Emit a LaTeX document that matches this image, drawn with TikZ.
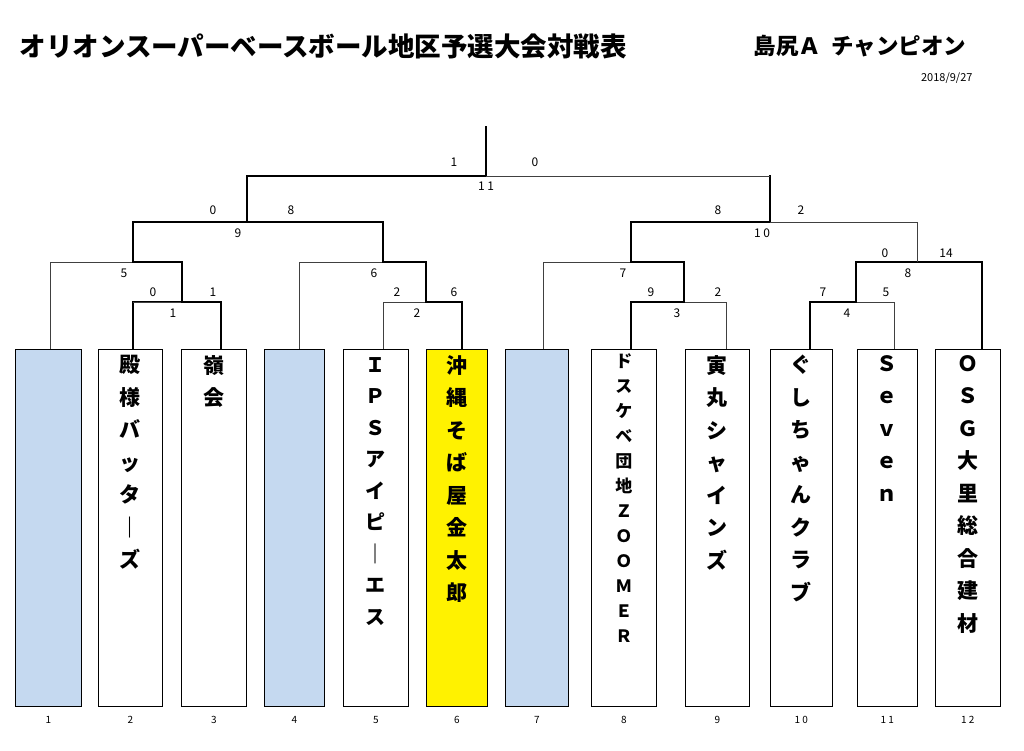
\documentclass[tikz,border=0pt]{standalone}
\usepackage{fontspec}
\setmainfont{Noto Sans CJK JP}
\definecolor{byecol}{RGB}{197,217,240}
\tikzset{
  box/.style={draw, line width=0.6pt, minimum width=#1, minimum height=357pt, anchor=north west, inner sep=0pt},
  win/.style={line width=2.4pt, line cap=rect},
  lose/.style={line width=0.6pt, draw=black!75},
  score/.style={font=\fontsize{12}{12}\selectfont},
  teamname/.style={anchor=north, align=center, inner sep=0pt},
}
\begin{document}
\begin{tikzpicture}[x=1pt,y=-1pt]
  \useasboundingbox (0,0) rectangle (1024,751);
  % title
  \node[anchor=west, font=\fontsize{26.5}{26}\selectfont\bfseries] (title) at (16,46) {オリオンスーパーベースボール地区予選大会対戦表};
  \node[anchor=west, font=\fontsize{22.5}{22}\selectfont\bfseries] (champ) at (750,46) {島尻Ａ\ \ チャンピオン};
  \node[anchor=east, font=\fontsize{11}{11}\selectfont] (date) at (976,78) {2018/9/27};
  % boxes
  \node[box=66pt, fill=byecol] (b1) at (15,349) {};
  \node[box=64pt] (b2) at (98,349) {};
  \node[box=65pt] (b3) at (181,349) {};
  \node[box=60pt, fill=byecol] (b4) at (264,349) {};
  \node[box=65pt] (b5) at (343,349) {};
  \node[box=61pt, fill=yellow] (b6) at (426,349) {};
  \node[box=63pt, fill=byecol] (b7) at (505,349) {};
  \node[box=65pt] (b8) at (591,349) {};
  \node[box=64pt] (b9) at (685,349) {};
  \node[box=62pt] (b10) at (770,349) {};
  \node[box=60pt] (b11) at (857,349) {};
  \node[box=65pt] (b12) at (935,349) {};
  \foreach \i/\lab in {1/1,2/2,3/3,4/4,5/5,6/6,7/7,8/8,9/9,10/1\ 0,11/1\ 1,12/1\ 2}
    \node[score, font=\fontsize{10}{10}\selectfont] (n\i) at ([yshift=-13pt]b\i.south) {\lab};
  % team names
  \node[teamname, font=\fontsize{21}{32.5}\selectfont\bfseries] (t2) at ([yshift=-6pt]b2.north) {殿\\様\\バ\\ッ\\タ\\｜\\ズ};
  \node[teamname, font=\fontsize{21}{32.5}\selectfont\bfseries] (t3) at ([yshift=-6pt]b3.north) {嶺\\会};
  \node[teamname, font=\fontsize{20}{31.5}\selectfont\bfseries] (t5) at ([yshift=-8pt]b5.north) {Ｉ\\Ｐ\\Ｓ\\ア\\イ\\ピ\\｜\\エ\\ス};
  \node[teamname, font=\fontsize{21}{32.5}\selectfont\bfseries] (t6) at ([yshift=-6pt]b6.north) {沖\\縄\\そ\\ば\\屋\\金\\太\\郎};
  \node[teamname, font=\fontsize{17}{25}\selectfont\bfseries] (t8) at ([yshift=-4pt]b8.north) {ド\\ス\\ケ\\ベ\\団\\地\\Ｚ\\Ｏ\\Ｏ\\Ｍ\\Ｅ\\Ｒ};
  \node[teamname, font=\fontsize{21}{32.5}\selectfont\bfseries] (t9) at ([yshift=-6pt]b9.north) {寅\\丸\\シ\\ャ\\イ\\ン\\ズ};
  \node[teamname, font=\fontsize{21}{32.5}\selectfont\bfseries] (t10) at ([yshift=-6pt]b10.north) {ぐ\\し\\ち\\ゃ\\ん\\ク\\ラ\\ブ};
  \node[teamname, font=\fontsize{21}{32.5}\selectfont\bfseries] (t11) at ([yshift=-6pt]b11.north) {Ｓ\\ｅ\\ｖ\\ｅ\\ｎ};
  \node[teamname, font=\fontsize{21}{32.5}\selectfont\bfseries] (t12) at ([yshift=-6pt]b12.north) {Ｏ\\Ｓ\\Ｇ\\大\\里\\総\\合\\建\\材};
  % left half
  \draw[lose] (50,349) -- (50,262) -- (133,262);
  \draw[win] (133,349) -- (133,302) -- (182,302) -- (221,302) -- (221,349);
  \draw[lose] (133,302) -- (182,302);
  \draw[win] (182,302) -- (182,262) -- (133,262) -- (133,222) -- (247,222);
  \draw[lose] (299,349) -- (299,262) -- (383,262);
  \draw[lose] (383,349) -- (383,302) -- (426,302);
  \draw[win] (462,349) -- (462,302) -- (426,302) -- (426,262) -- (383,262) -- (383,222) -- (247,222) -- (247,176) -- (486,176) -- (486,127);
  % right half
  \draw[lose] (543,349) -- (543,262) -- (631,262);
  \draw[lose] (726,349) -- (726,302) -- (684,302);
  \draw[win] (631,349) -- (631,302) -- (684,302) -- (684,262) -- (631,262) -- (631,222) -- (770,222) -- (770,176);
  \draw[lose] (770,176) -- (486,176);
  \draw[lose] (894,349) -- (894,302) -- (856,302);
  \draw[win] (810,349) -- (810,302) -- (856,302) -- (856,262) -- (917,262);
  \draw[win] (982,349) -- (982,262) -- (917,262);
  \draw[lose] (917,262) -- (917,222) -- (770,222);
  % scores
  \foreach \x/\y/\s in {454/162/1, 535/162/0, 486/186/1\ 1,
      213/210/0, 291/210/8, 238/233/9,
      124/273/5, 153/292/0, 213/292/1, 173/313/1,
      374/273/6, 397/292/2, 454/292/6, 417/313/2,
      718/210/8, 801/210/2, 762/233/1\ 0,
      623/273/7, 651/292/9, 718/292/2, 677/313/3,
      885/253/0, 946/253/14, 908/273/8,
      823/292/7, 886/292/5, 847/313/4}
    \node[score] at (\x,\y) {\s};
\end{tikzpicture}
\end{document}
